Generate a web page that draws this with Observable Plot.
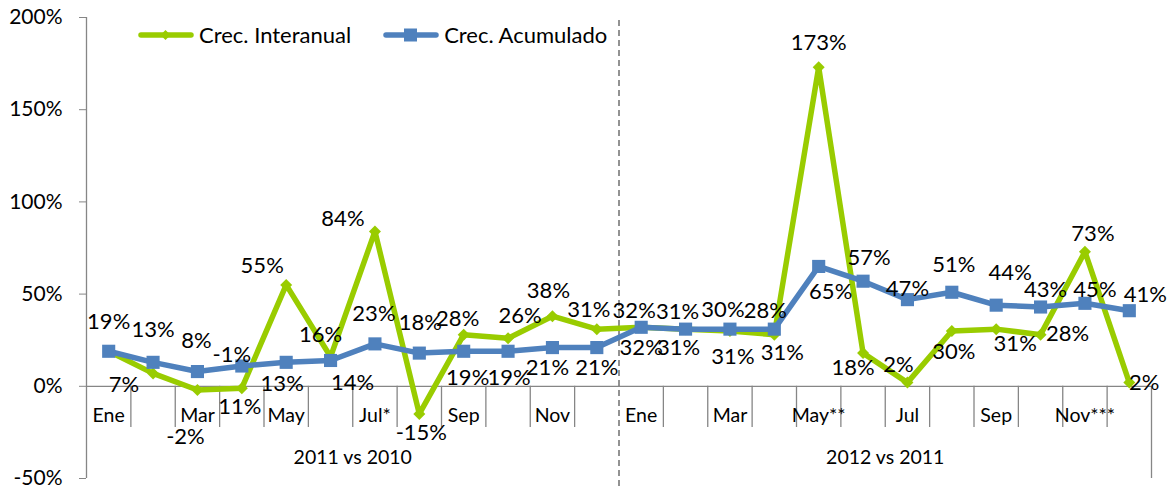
<!DOCTYPE html>
<html>
<head>
<meta charset="utf-8">
<script src="https://cdn.jsdelivr.net/npm/d3@7"></script>
<script src="https://cdn.jsdelivr.net/npm/@observablehq/plot@0.6"></script>
<style>
  html, body { margin: 0; padding: 0; background: #fff; }
  #chart { position: relative; width: 1172px; height: 488px; font-family: Lato, "Open Sans", sans-serif; }
  #chart svg { position: absolute; left: 0; top: 0; }
  #legend { position: absolute; left: 138px; top: 21px; display: flex; align-items: center; font-size: 22px; color: #000; white-space: nowrap; }
  #legend .item { display: flex; align-items: center; margin-right: 32px; }
  #legend svg { position: static; margin-right: 5px; }
  g[aria-label="y-axis tick"] path { stroke: #868686; }
</style>
</head>
<body>
<div id="chart"></div>
<script>
// ---- data ----
const months = ["Ene","","Mar","","May","","Jul*","","Sep","","Nov","",
                "Ene","","Mar","","May**","","Jul","","Sep","","Nov***",""];
const groups = ["2011 vs 2010", "2012 vs 2011"];
const seriesNames = ["Crec. Interanual", "Crec. Acumulado"];
const interanual = [19, 7, -2, -1, 55, 16, 84, -15, 28, 26, 38, 31,
                    32, 31, 30, 28, 173, 18, 2, 30, 31, 28, 73, 2];
const acumulado  = [19, 13, 8, 11, 13, 14, 23, 18, 19, 19, 21, 21,
                    32, 31, 31, 31, 65, 57, 47, 51, 44, 43, 45, 41];
const yTicks = [-50, 0, 50, 100, 150, 200];

// ---- layout: data-label offsets in pixels [dx, dy] (null = label hidden behind the other series' label) ----
const interanualLabelOffsets = [null,[-29,12],[-12,47],[-10,-33],[-24,-19],[-10,-22],[-32,-12],[2,19],[-6,-16],[12,-22],[-4,-25],[-8,-19],
                                [-7,-16],[-8,-17],[-7,-21],[-9,-24],[0,-24],[-10,15],[-9,-18],[2,21],[19,15],[27,-1],[8,-18],[15,0]];
const acumuladoLabelOffsets  = [[0,-29],[0,-32],[-1,-31],[-2,41],[-4,22],[22,22],[-1,-30],[1,-30],[4,27],[1,27],[-5,20],[0,20],
                                [0,21],[-7,19],[3,28],[8,24],[12,26],[6,-23],[0,-11],[2,-27],[14,-32],[5,-17],[10,-13],[16,-16]];

const GREEN = "#99CC00", BLUE = "#4F81BD", GRID = "#868686";
const pct = v => v + "%";

const rows = months.map((m, i) => ({i, month: m, inter: interanual[i], acum: acumulado[i]}));
const n = months.length;
const minorTicks = d3.range(1, n).filter(k => k !== n / 2).map(k => k - 0.5);
const groupCenters = groups.map((g, gi) => ({label: g, x: gi * (n / 2) + (n / 2 - 1) / 2}));

const labelMarks = (key, offsets) => rows.filter((r, i) => offsets[i]).map(r =>
  Plot.text([r], {x: "i", y: key, text: d => pct(d[key]), dx: offsets[r.i][0], dy: offsets[r.i][1], fontSize: 22, fill: "#000"}));

const plot = Plot.plot({
  width: 1172,
  height: 488,
  marginLeft: 86,
  marginRight: 21,
  marginTop: 17,
  marginBottom: 10,
  style: {fontFamily: "Lato, 'Open Sans', sans-serif", fontSize: "21px", color: "#000", background: "transparent"},
  x: {type: "linear", domain: [-0.5, n - 0.5], axis: null},
  y: {domain: [-50, 200], ticks: yTicks, tickFormat: pct, tickSize: 7, tickPadding: 17, label: null},
  marks: [
    Plot.ruleX([-0.5], {y1: -50, y2: 200, stroke: GRID, strokeWidth: 1.3}),
    Plot.ruleY([0], {stroke: GRID, strokeWidth: 1.3}),
    Plot.ruleX(minorTicks, {y1: 0, y2: -50, insetBottom: 51, stroke: GRID, strokeWidth: 1.3}),
    Plot.ruleX([n - 0.5], {y1: 0, y2: -50, stroke: GRID, strokeWidth: 1.3}),
    Plot.ruleX([n / 2 - 0.5], {y1: -50, y2: 200, insetTop: 58, stroke: "#6f6f6f", strokeWidth: 1.5, strokeDasharray: "6,4"}),
    Plot.text(rows, {x: "i", y: () => 0, text: "month", dy: 29, fontSize: 19.5, fill: "#000"}),
    Plot.text(groupCenters, {x: "x", y: () => 0, text: "label", dy: 71, fontSize: 19.5, fill: "#000"}),
    Plot.line(rows, {x: "i", y: "inter", stroke: GREEN, strokeWidth: 5.5}),
    Plot.dot(rows, {x: "i", y: "inter", symbol: "diamond2", r: 5.4, fill: GREEN, stroke: null}),
    Plot.line(rows, {x: "i", y: "acum", stroke: BLUE, strokeWidth: 5.5}),
    Plot.dot(rows, {x: "i", y: "acum", symbol: "square", r: 7.4, fill: BLUE, stroke: null}),
    ...labelMarks("inter", interanualLabelOffsets),
    ...labelMarks("acum", acumuladoLabelOffsets)
  ]
});

const chart = document.getElementById("chart");
chart.appendChild(plot);

// legend
const legend = document.createElement("div");
legend.id = "legend";
const swatch = (color, shape) => {
  const marker = shape === "diamond"
    ? `<path d="M27.5,29 l5,5 l-5,5 l-5,-5 z" fill="${color}"/>`
    : `<rect x="21" y="27.5" width="13" height="13" fill="${color}"/>`;
  return `<svg width="56" height="14" viewBox="0 27 56 14" style="overflow:visible"><line x1="3" y1="34" x2="53" y2="34" stroke="${color}" stroke-width="5.5" stroke-linecap="round"/>${marker}</svg>`;
};
legend.innerHTML =
  `<div class="item">${swatch(GREEN, "diamond")}<span>${seriesNames[0]}</span></div>` +
  `<div class="item">${swatch(BLUE, "square")}<span>${seriesNames[1]}</span></div>`;
chart.appendChild(legend);
</script>
</body>
</html>
